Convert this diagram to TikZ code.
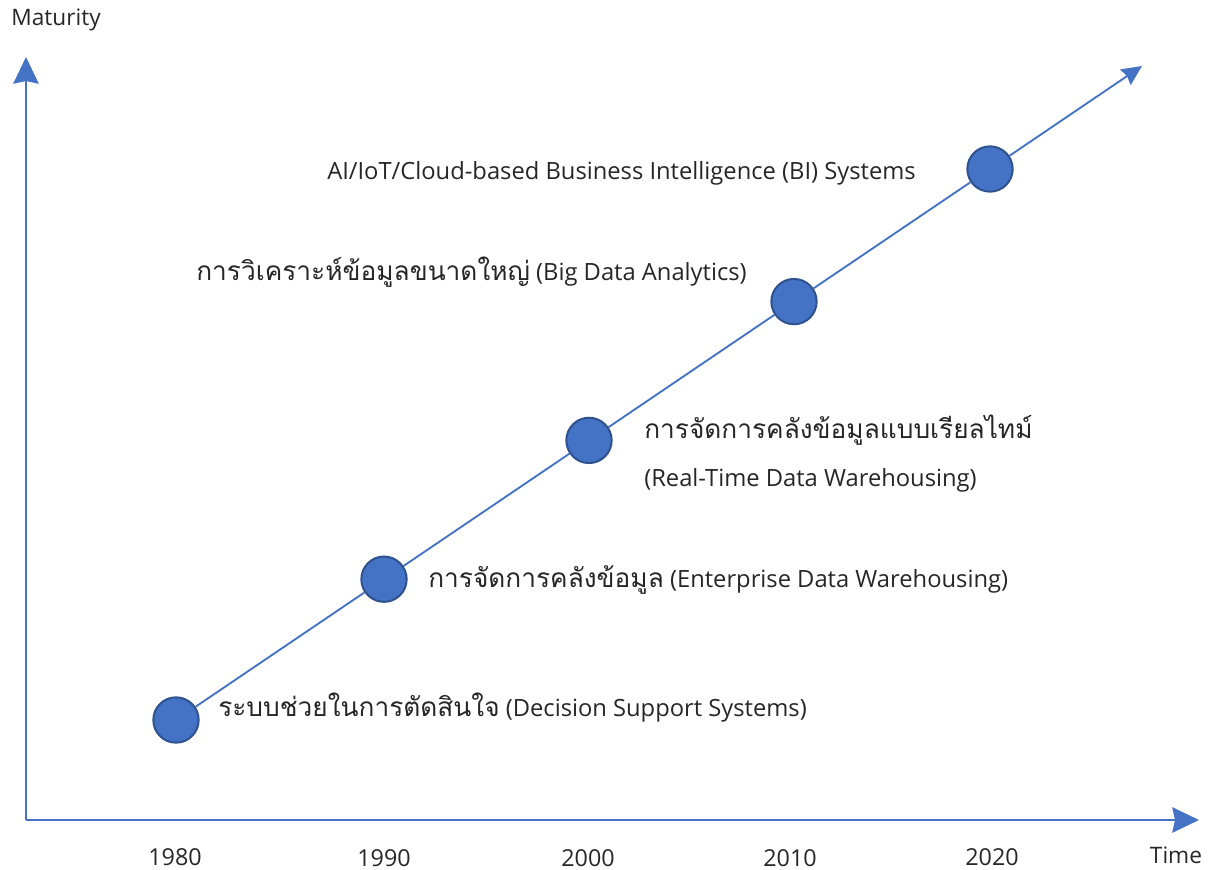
\documentclass[tikz,border=0pt]{standalone}
\usepackage{fontspec}
\setmainfont{Open Sans}
\newfontfamily\thaifont[Script=Thai]{Loma}
\usetikzlibrary{arrows.meta}
\definecolor{axblue}{HTML}{4472C4}
\definecolor{rimblue}{HTML}{2F528F}
\tikzset{
  axis/.style={draw=axblue, line width=1.6pt, -{Stealth[length=20pt,width=19pt,inset=2pt]}},
  trend/.style={draw=axblue, line width=1.4pt},
  dot/.style={circle, fill=axblue, draw=rimblue, line width=1.5pt, minimum size=34pt, inner sep=0pt},
  lat/.style={font=\fontsize{17.8}{20}\selectfont, text=black!85, inner sep=0pt, anchor=west},
  ax/.style={font=\fontsize{17}{20}\selectfont, text=black!85, inner sep=0pt},
  yr/.style={font=\fontsize{17.5}{20}\selectfont, text=black!85, inner sep=0pt},
}
\newcommand{\thtxt}[1]{{\thaifont\fontsize{19.7}{24}\selectfont #1}}
\begin{document}
\begin{tikzpicture}[x=0.75pt,y=-0.75pt]
\useasboundingbox (0,0) rectangle (1215,870);
% axes
\coordinate (o) at (26,820);
\coordinate (ytip) at (26,57);
\coordinate (xtip) at (1199,820);
\draw[axis] (o) -- (ytip);
\draw[axis] (o) -- (xtip);
\node[ax] (mat) at (56,20) {Maturity};
\node[ax] (time) at (1176,855) {Time};
% trend
\coordinate (tip) at (1142,66);
\node[dot] (c1) at (176,720) {};
\node[dot] (c2) at (384,579.2) {};
\node[dot] (c3) at (589,440.4) {};
\node[dot] (c4) at (794,301.6) {};
\node[dot] (c5) at (990,169) {};
\draw[trend] (c1) -- (c2);
\draw[trend] (c2) -- (c3);
\draw[trend] (c3) -- (c4);
\draw[trend] (c4) -- (c5);
\draw[trend, -{Stealth[length=15pt,width=14pt,inset=1.5pt]}] (c5) -- (tip);
% years
\node[yr] (y1) at (175,857) {1980};
\node[yr] (y2) at (384,858) {1990};
\node[yr] (y3) at (588,858) {2000};
\node[yr] (y4) at (790,858) {2010};
\node[yr] (y5) at (992,857) {2020};
% labels
\node[lat] (l1) at (218,708) {\thtxt{ระบบช่วยในการตัดสินใจ} (Decision Support Systems)};
\node[lat] (l2) at (428,580) {\thtxt{การจัดการคลังข้อมูล} (Enterprise Data Warehousing)};
\node[lat] (l3a) at (644,430) {\thtxt{การจัดการคลังข้อมูลแบบเรียลไทม์}};
\node[lat] (l3b) at (644,480) {(Real-Time Data Warehousing)};
\node[lat] (l4) at (196,272) {\thtxt{การวิเคราะห์ข้อมูลขนาดใหญ่} (Big Data Analytics)};
\node[lat] (l5) at (327,173) {AI/IoT/Cloud-based Business Intelligence (BI) Systems};
\end{tikzpicture}
\end{document}
